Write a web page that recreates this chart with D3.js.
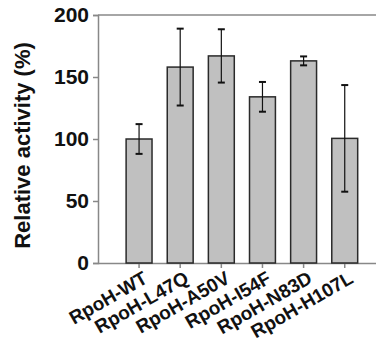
<!DOCTYPE html>
<html>
<head>
<meta charset="utf-8">
<script src="https://cdn.jsdelivr.net/npm/d3@7"></script>
<style>
    body { margin: 0; background: #fff; }
    text { font-family: "Liberation Sans", Arial, sans-serif; font-weight: bold; }
</style>
</head>
<body>
<div id="chart"></div>
<script>
"use strict";

// values
let strains = ["RpoH-WT", "RpoH-L47Q", "RpoH-A50V", "RpoH-I54F", "RpoH-N83D", "RpoH-H107L"];
let activity = [100, 158, 167, 134, 163, 100.5];
let errors = [12, 31, 21.5, 12, 3.6, 43];
let yTicks = [0, 50, 100, 150, 200];

let width = 376;
let height = 341;
let plotLeft = 98;
let plotTop = 15;
let plotBottom = 263;

let svg = d3.select("#chart").append("svg")
    .attr("width", width).attr("height", height);

let x = d3.scaleBand().domain(strains)
    .range([118.5, 365.3]).paddingInner(0.37).paddingOuter(0.185);
let y = d3.scaleLinear().domain([0, 200]).range([plotBottom, plotTop]);

// frame line on top
svg.append("line")
    .attr("x1", plotLeft).attr("x2", width).attr("y1", y(200)).attr("y2", y(200))
    .attr("stroke", "#888").attr("stroke-width", 1.5);

// y axis
let yAxis = svg.append("g").attr("transform", `translate(${plotLeft},0)`)
    .call(d3.axisLeft(y).tickValues(yTicks).tickSize(5).tickPadding(4));
yAxis.select(".domain").attr("stroke", "#888").attr("stroke-width", 1.5);
yAxis.selectAll(".tick line").attr("stroke", "#888").attr("stroke-width", 1.5);
yAxis.selectAll(".tick text").attr("font-size", 21).attr("fill", "#111")
    .attr("font-family", "Liberation Sans, Arial, sans-serif").attr("font-weight", "bold");

// x axis
let xAxis = svg.append("g").attr("transform", `translate(0,${plotBottom})`)
    .call(d3.axisBottom(x).tickSize(5).tickSizeOuter(0));
xAxis.select(".domain").attr("d", `M${plotLeft},0.5H${width}`)
    .attr("stroke", "#888").attr("stroke-width", 1.5);
xAxis.selectAll(".tick line").attr("stroke", "#888").attr("stroke-width", 1.5);
xAxis.selectAll(".tick text")
    .attr("font-size", 19).attr("fill", "#111")
    .attr("font-family", "Liberation Sans, Arial, sans-serif").attr("font-weight", "bold")
    .attr("text-anchor", "end")
    .attr("y", 0).attr("dy", "0.72em")
    .attr("transform", "translate(3,7) rotate(-30)");

// bars
svg.selectAll(".bar").data(strains).enter().append("rect")
    .attr("x", function (d) { return x(d); })
    .attr("width", x.bandwidth())
    .attr("y", function (d, i) { return y(activity[i]); })
    .attr("height", function (d, i) { return y(0) - y(activity[i]); })
    .attr("fill", "#c0c0c0").attr("stroke", "#2a2a2a").attr("stroke-width", 1.5);

// error bars
let err = svg.selectAll(".err").data(strains).enter().append("g")
    .attr("stroke", "#111").attr("stroke-width", 1.2);
err.append("line")
    .attr("x1", function (d) { return x(d) + x.bandwidth() / 2; })
    .attr("x2", function (d) { return x(d) + x.bandwidth() / 2; })
    .attr("y1", function (d, i) { return y(activity[i] + errors[i]); })
    .attr("y2", function (d, i) { return y(activity[i] - errors[i]); });
[1, -1].forEach(function (s) {
    err.append("line")
        .attr("x1", function (d) { return x(d) + x.bandwidth() / 2 - 3.5; })
        .attr("x2", function (d) { return x(d) + x.bandwidth() / 2 + 3.5; })
        .attr("y1", function (d, i) { return y(activity[i] + s * errors[i]); })
        .attr("y2", function (d, i) { return y(activity[i] + s * errors[i]); })
        .attr("stroke-width", 2);
});

// y label
svg.append("text")
    .attr("transform", `translate(30,${(43 + 248) / 2}) rotate(-90)`)
    .attr("text-anchor", "middle").attr("font-size", 22).attr("fill", "#111")
    .text("Relative activity (%)");
</script>
</body>
</html>
